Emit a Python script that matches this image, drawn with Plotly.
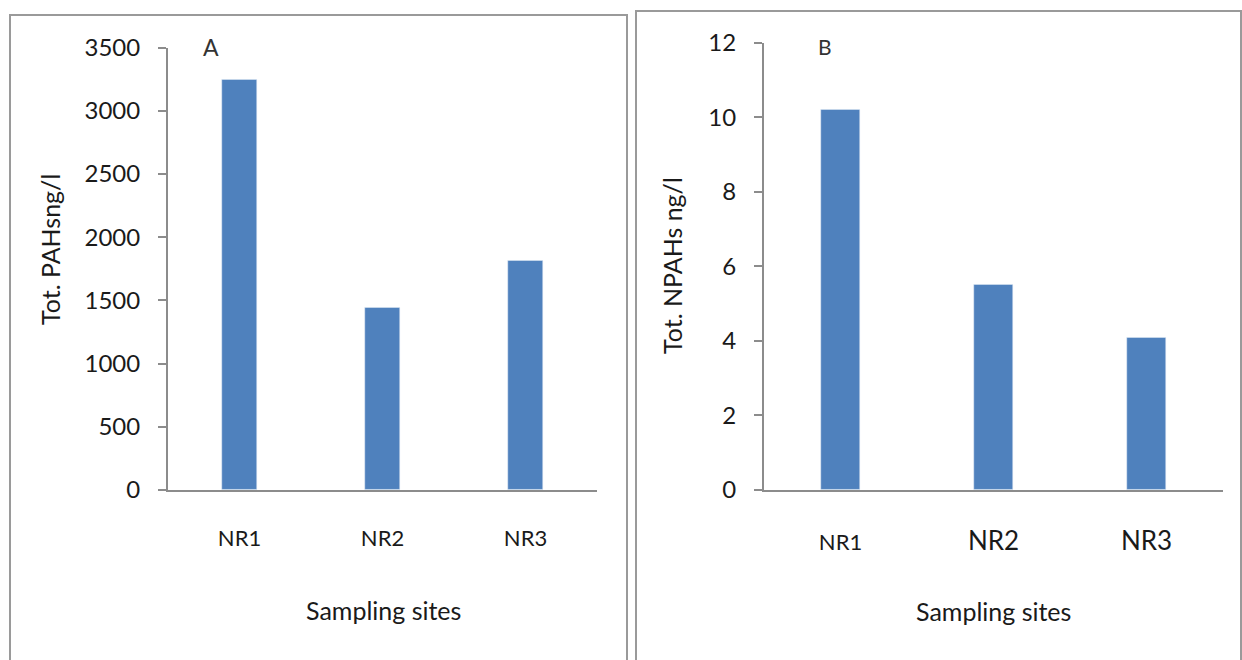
import plotly.graph_objects as go

W, H = 1242, 660

sites = ["NR1", "NR2", "NR3"]
pahs = [3245, 1445, 1815]
npahs = [10.21, 5.50, 4.08]

y_ticks_a = [0, 500, 1000, 1500, 2000, 2500, 3000, 3500]
y_ticks_b = [0, 2, 4, 6, 8, 10, 12]
x_ticktext_a = sites
x_ticktext_b = ["NR1", "<span style='font-size:26px'>NR2</span>", "<span style='font-size:26px'>NR3</span>"]

BAR = "#4F81BD"
AXC = "#8c8c8c"
TXT = "#1a1a1a"
FONT = "Lato"


def px(x):
    return x / W


def py(y):
    return 1 - y / H


fig = go.Figure()
fig.add_trace(go.Bar(x=sites, y=pahs, marker_color=BAR, width=0.245,
                     xaxis="x", yaxis="y", showlegend=False))
fig.add_trace(go.Bar(x=sites, y=npahs, marker_color=BAR, width=0.25,
                     xaxis="x2", yaxis="y2", showlegend=False))

common_x = dict(showline=True, linecolor=AXC, linewidth=2, ticks="", showgrid=False,
                zeroline=False, tickfont=dict(family=FONT, size=22, color=TXT),
                fixedrange=True, automargin=False)
common_y = dict(showline=True, linecolor=AXC, linewidth=2, ticks="outside", ticklen=8,
                tickcolor=AXC, tickwidth=2, showgrid=False, zeroline=False,
                tickfont=dict(family=FONT, size=24, color=TXT), ticklabelstandoff=13,
                fixedrange=True, automargin=False)

fig.update_layout(
    width=W, height=H, autosize=False,
    margin=dict(l=0, r=0, t=0, b=0, pad=0, autoexpand=False),
    paper_bgcolor="white", plot_bgcolor="white",
    showlegend=False,
    bargap=0,
    xaxis=dict(domain=[px(168), px(597)], anchor="y", tickmode="array",
               tickvals=sites, ticktext=x_ticktext_a, ticklabelstandoff=28, **common_x),
    yaxis=dict(domain=[py(490), py(47.7)], anchor="x", range=[0, 3500],
               tickmode="array", tickvals=y_ticks_a, **common_y),
    xaxis2=dict(domain=[px(764), px(1223)], anchor="y2", tickmode="array",
                tickvals=sites, ticktext=x_ticktext_b, ticklabelstandoff=32, **common_x),
    yaxis2=dict(domain=[py(490), py(42.7)], anchor="x2", range=[0, 12],
                tickmode="array", tickvals=y_ticks_b, **common_y),
)

# panel frames
fig.add_shape(type="rect", xref="paper", yref="paper", x0=px(10), x1=px(627),
              y0=py(700), y1=py(15), line=dict(color="#9a9a9a", width=2))
fig.add_shape(type="rect", xref="paper", yref="paper", x0=px(636), x1=px(1241),
              y0=py(700), y1=py(11), line=dict(color="#9a9a9a", width=2))

anns = [
    dict(text="A", x=px(211), y=py(47), size=23),
    dict(text="B", x=px(825), y=py(47), size=21),
    dict(text="Sampling sites", x=px(383), y=py(610), size=25),
    dict(text="Sampling sites", x=px(993), y=py(611), size=25),
]
for a in anns:
    fig.add_annotation(text=a["text"], x=a["x"], y=a["y"], xref="paper", yref="paper",
                       showarrow=False, xanchor="center", yanchor="middle",
                       font=dict(family=FONT, size=a["size"], color="#333333" if len(a["text"]) == 1 else TXT))

fig.add_annotation(text="Tot. PAHsng/l", x=px(50), y=py(250), xref="paper", yref="paper",
                   showarrow=False, textangle=-90, xanchor="center", yanchor="middle",
                   font=dict(family=FONT, size=25, color=TXT))
fig.add_annotation(text="Tot. NPAHs ng/l", x=px(672), y=py(266), xref="paper", yref="paper",
                   showarrow=False, textangle=-90, xanchor="center", yanchor="middle",
                   font=dict(family=FONT, size=25, color=TXT))

fig.write_html("out.html", config={"displayModeBar": False},
               post_script="document.body.style.margin='0';document.body.style.overflow='hidden';")
